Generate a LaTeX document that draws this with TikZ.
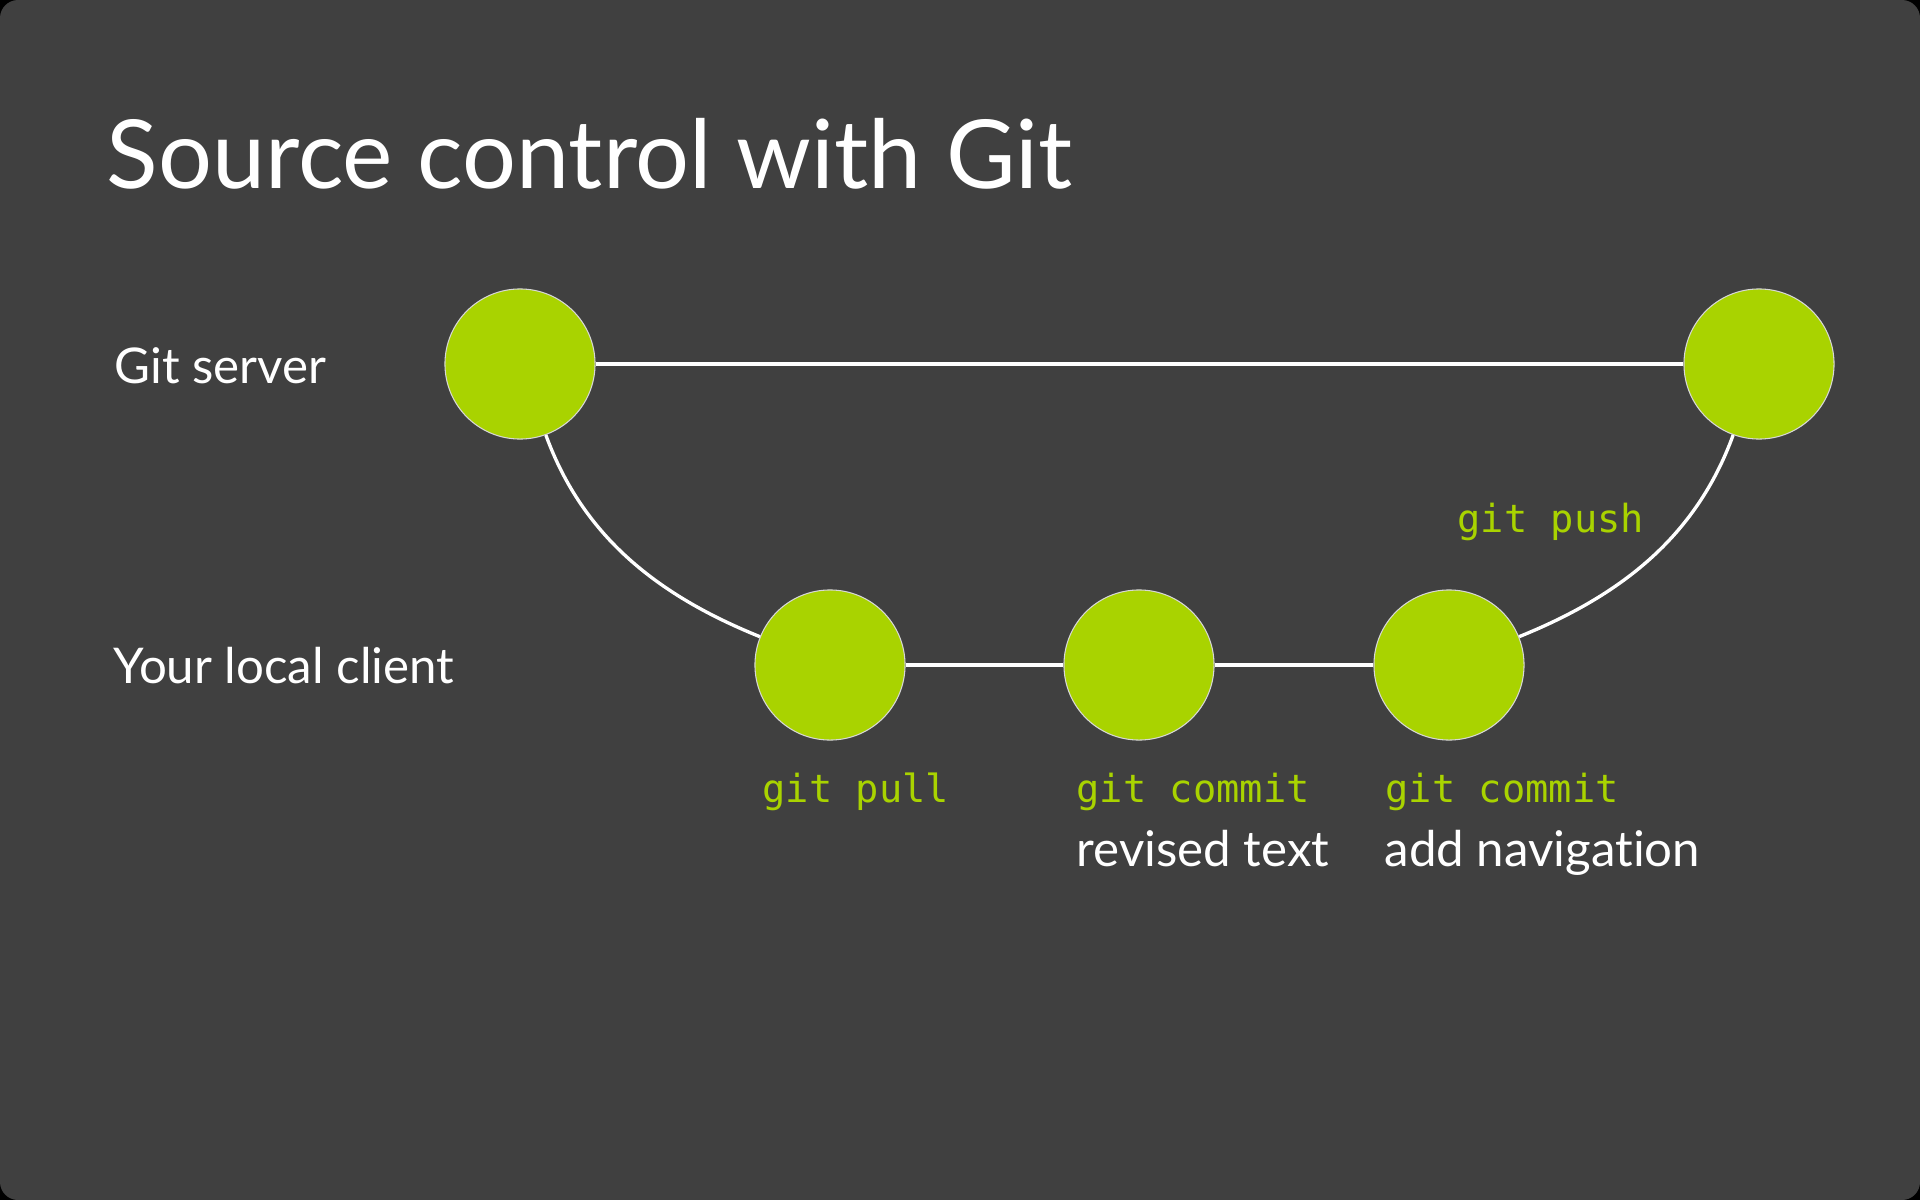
\documentclass[tikz,border=0pt]{standalone}
\usepackage{fontspec}
\setmainfont{Lato}[Ligatures=NoCommon]
\setmonofont{DejaVu Sans Mono}
\definecolor{slide}{RGB}{64,64,64}
\definecolor{gitgreen}{RGB}{169,211,0}
\definecolor{rim}{RGB}{215,215,215}
\tikzset{%
    commit/.style={%
        circle, fill=gitgreen, draw=rim, line width=0.3pt,
        minimum size=1.5cm, inner sep=0pt},
    branch/.style={draw=white, line width=0.95pt},
    heading/.style={anchor=base west, inner sep=0pt, text=white,
        font=\fontsize{27.1}{32}\selectfont},
    rowtext/.style={anchor=base west, inner sep=0pt, text=white,
        font=\fontsize{14}{17}\selectfont},
    cmd/.style={anchor=base west, inner sep=0pt, text=gitgreen,
        font=\ttfamily\fontsize{11}{13}\selectfont}
}

\begin{document}
\begin{tikzpicture}[x=0.01cm, y=0.01cm]
\useasboundingbox (0,0) rectangle (1920,-1200);
\fill[black] (0,0) rectangle (1920,-1200);
\fill[slide, rounded corners=0.18cm] (0,0) rectangle (1920,-1200);

\node[heading] (T) at (106,-188) {Source control with Git};
\node[rowtext] (R0) at (114,-383) {Git server};
\node[rowtext] (R1) at (113,-683) {Your local client};

% server row
\node[commit] (S0) at (520,-364) {};
\node[commit] (S1) at (1759,-364) {};
% client row
\node[commit] (L0) at (830,-665) {};
\node[commit] (L1) at (1139,-665) {};
\node[commit] (L2) at (1449,-665) {};

\node[cmd] (M0) at (762,-802) {git pull};
\node[cmd] (M1) at (1076,-802) {git commit};
\node[cmd] (M2) at (1385,-802) {git commit};
\node[cmd] (M3) at (1457,-532) {git push};
\node[rowtext] (N1) at (1076,-866) {revised text};
\node[rowtext] (N2) at (1384,-866) {add navigation};

\path[branch]

% server to server
(S0) edge (S1)

% server to pull
(S0) edge[out=-70, in=158, looseness=0.95] (L0)

% pull to commit
(L0) edge (L1)

% commit to commit
(L1) edge (L2)

% commit to push
(L2) edge[out=22, in=-110, looseness=0.95] (S1)
;
\end{tikzpicture}
\end{document}
